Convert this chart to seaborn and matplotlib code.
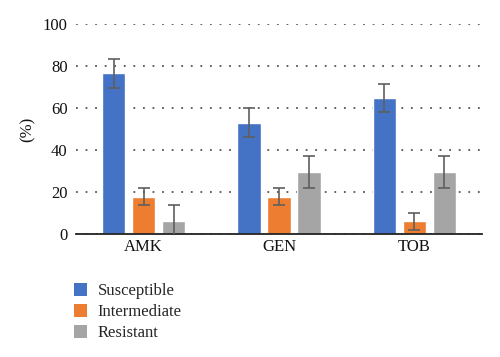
import matplotlib
matplotlib.use("Agg")
import matplotlib.pyplot as plt
import seaborn as sns
import pandas as pd
import numpy as np
from matplotlib.patches import Patch

categories = ["AMK", "GEN", "TOB"]
groups = ["Susceptible", "Intermediate", "Resistant"]
susceptible = [76.5, 52.9, 64.7]
intermediate = [17.6, 17.6, 5.9]
resistant = [5.9, 29.4, 29.4]
err_susceptible = [6.8, 6.9, 6.8]
err_intermediate = [4.0, 4.0, 3.9]
err_resistant = [8.0, 7.8, 7.8]
yticks = [0, 20, 40, 60, 80, 100]

colors = ["#4472C4", "#ED7D31", "#A5A5A5"]

df = pd.DataFrame({
    "drug": categories * 3,
    "group": [g for g in groups for _ in categories],
    "value": susceptible + intermediate + resistant,
    "err": err_susceptible + err_intermediate + err_resistant,
})

sns.set_theme(style="white")
plt.rcParams["font.family"] = ["Liberation Serif", "DejaVu Serif"]

fig = plt.figure(figsize=(5, 3.57), dpi=100)
ax = fig.add_axes([0.152, 0.345, 0.812, 0.588])

sns.barplot(data=df, x="drug", y="value", hue="group", order=categories,
            hue_order=groups, palette=colors, errorbar=None, width=0.667,
            gap=0.22, saturation=1, ax=ax, legend=False)

# error bars at bar centers from the drawn patches
bars = [p for p in ax.patches if p.get_height() > 0]
for p, (_, row) in zip(bars, df.iterrows()):
    cx = p.get_x() + p.get_width() / 2
    ax.errorbar(cx, p.get_height(), yerr=row["err"], fmt="none",
                ecolor="#5f5f5f", elinewidth=1.2, capsize=4.5, capthick=1.2,
                zorder=5, clip_on=True)

ax.set_xlim(-0.5, 2.5)
ax.set_ylim(0, 100)
ax.set_yticks(yticks)
ax.set_yticklabels([str(t) for t in yticks])
ax.yaxis.grid(True, linestyle=(0, (1, 4.3)), color="#555555", linewidth=1.3)
ax.set_axisbelow(True)
for s in ["left", "right", "top"]:
    ax.spines[s].set_visible(False)
ax.spines["bottom"].set_color("#222222")
ax.spines["bottom"].set_linewidth(1.3)
ax.tick_params(axis="both", length=0, labelsize=12, colors="#111111")
ax.tick_params(axis="x", pad=4)
ax.tick_params(axis="y", pad=6)
ax.set_xlabel("")
ax.set_ylabel("(%)", fontsize=12, color="#111111", labelpad=5)

handles = [Patch(facecolor=c, edgecolor="none") for c in colors]
fig.legend(handles, groups, loc="upper left", bbox_to_anchor=(0.135, 0.225),
           frameon=False, fontsize=12, handlelength=0.75, handleheight=0.75,
           handletextpad=0.67, labelspacing=0.3, borderaxespad=0)

fig.savefig("out.png", dpi=100)
